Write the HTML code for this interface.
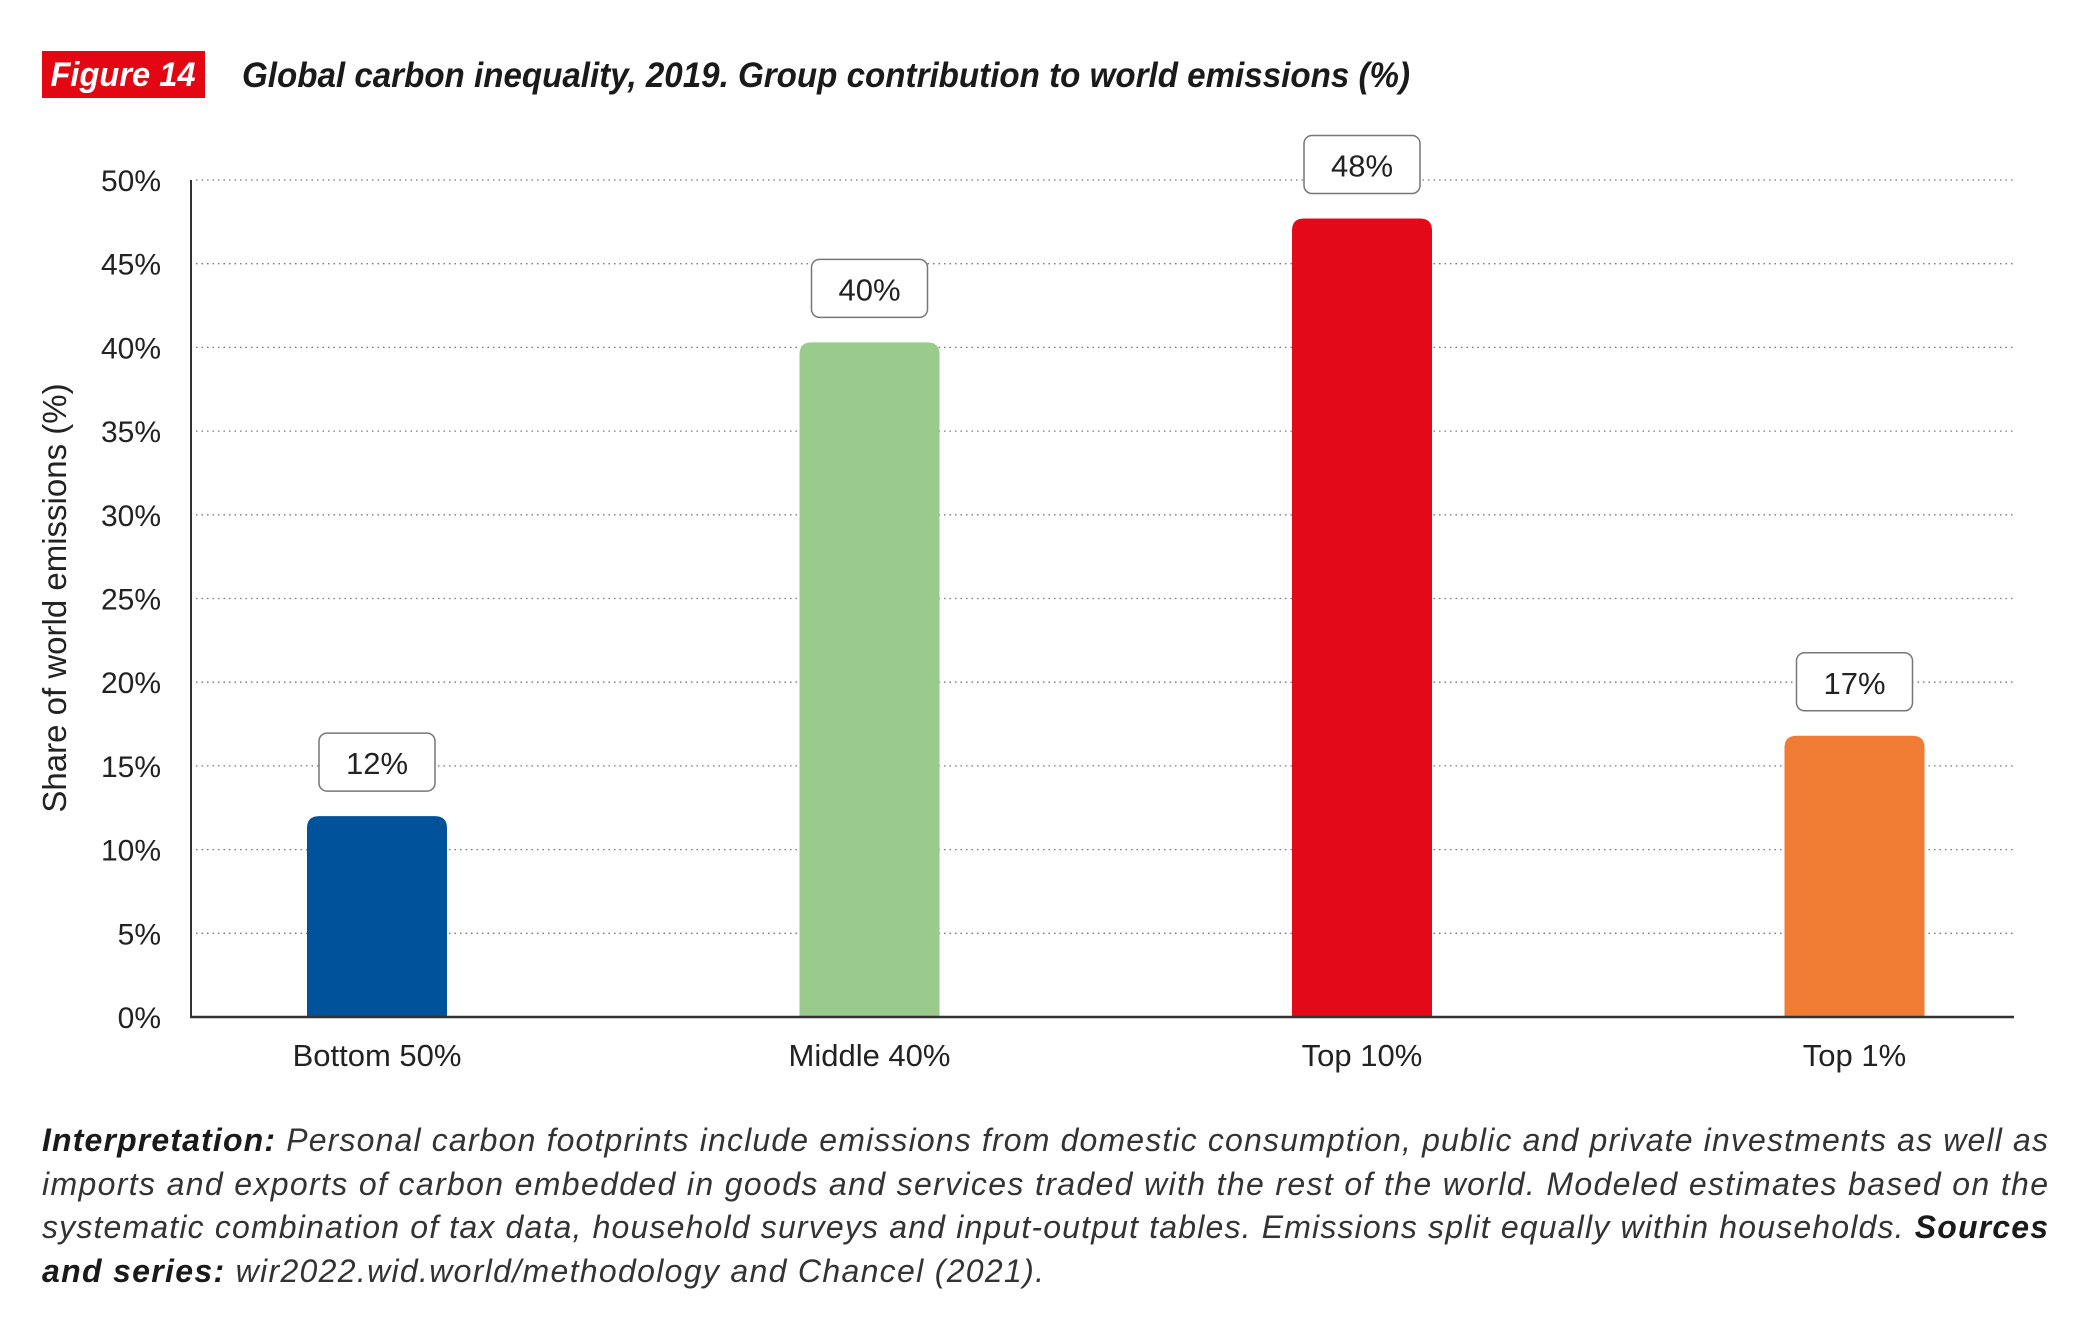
<!DOCTYPE html>
<html><head><meta charset="utf-8"><style>
html,body{margin:0;padding:0;background:#fff;}
svg{display:block;}
text{font-family:"Liberation Sans",sans-serif;}
</style></head><body>
<svg id="chart" width="2095" height="1329" viewBox="0 0 2095 1329" xmlns="http://www.w3.org/2000/svg">
<rect x="42" y="51" width="163" height="47" fill="#e30613"/>
<text x="123" y="86" text-anchor="middle" font-size="34" font-weight="bold" font-style="italic" fill="#fff" textLength="145" lengthAdjust="spacingAndGlyphs">Figure 14</text>
<text x="242" y="87" font-size="35" font-weight="bold" font-style="italic" fill="#1a1a1a" textLength="1168" lengthAdjust="spacingAndGlyphs">Global carbon inequality, 2019. Group contribution to world emissions (%)</text>
<g id="grid"></g>
<g id="bars"></g>
<g id="labels"></g>
<line x1="191" y1="180" x2="191" y2="1018" stroke="#333" stroke-width="2"/>
<line x1="190" y1="1017" x2="2014" y2="1017" stroke="#333" stroke-width="2.5"/>
<text transform="translate(66,598) rotate(-90)" text-anchor="middle" font-size="33" fill="#222">Share of world emissions (%)</text>
<g font-size="32" font-style="italic" fill="#333">
<text x="42" y="1151" textLength="2006" lengthAdjust="spacing"><tspan font-weight="bold" fill="#1a1a1a">Interpretation:</tspan> Personal carbon footprints include emissions from domestic consumption, public and private investments as well as</text>
<text x="42" y="1195" textLength="2006" lengthAdjust="spacing">imports and exports of carbon embedded in goods and services traded with the rest of the world. Modeled estimates based on the</text>
<text x="42" y="1238" textLength="2006" lengthAdjust="spacing">systematic combination of tax data, household surveys and input-output tables. Emissions split equally within households. <tspan font-weight="bold" fill="#1a1a1a">Sources</tspan></text>
<text x="42" y="1282" textLength="1002" lengthAdjust="spacing"><tspan font-weight="bold" fill="#1a1a1a">and series:</tspan> wir2022.wid.world/methodology and Chancel (2021).</text>
</g>
</svg>
<script>
const categories = ["Bottom 50%", "Middle 40%", "Top 10%", "Top 1%"];
const values = [12, 40.3, 47.7, 16.8];
const valueLabels = ["12%", "40%", "48%", "17%"];
const colors = ["#00539b", "#9aca8c", "#e30918", "#f07b33"];
const yTicks = [0, 5, 10, 15, 20, 25, 30, 35, 40, 45, 50];
const yTickLabels = ["0%", "5%", "10%", "15%", "20%", "25%", "30%", "35%", "40%", "45%", "50%"];

const NS = "http://www.w3.org/2000/svg";
const y0 = 1017, y50 = 180, yMax = 50;
function yScale(v){ return y0 - (y0 - y50) * v / yMax; }
function xScale(i){ return 377 + 492.5 * i; }
const barW = 140;
function mk(tag, attrs, parent){
  const e = document.createElementNS(NS, tag);
  for (const k in attrs) e.setAttribute(k, attrs[k]);
  parent.appendChild(e);
  return e;
}
const grid = document.getElementById("grid");
const bars = document.getElementById("bars");
const labels = document.getElementById("labels");
yTicks.forEach((t, i) => {
  const y = yScale(t);
  if (t > 0) {
    const l = mk("line", {x1: 196, x2: 2014, y1: y, y2: y, stroke: "#777", "stroke-width": 1.3, "stroke-dasharray": "1.5 4"}, grid);
    
    
  }
  const tx = mk("text", {x: 161, y: y + 11, "text-anchor": "end", "font-size": 30, fill: "#222"}, grid);
  tx.textContent = yTickLabels[i];
  
  
});
categories.forEach((c, i) => {
  const cx = xScale(i), top = yScale(values[i]);
  const r = 12;
  const x = cx - barW / 2;
  const p = mk("path", {d: `M${x},${y0} L${x},${top + r} Q${x},${top} ${x + r},${top} L${x + barW - r},${top} Q${x + barW},${top} ${x + barW},${top + r} L${x + barW},${y0} Z`, fill: colors[i]}, bars);
  
  
  const bx = mk("rect", {x: cx - 58, y: top - 25 - 58, width: 116, height: 58, rx: 8, fill: "#fff", stroke: "#777", "stroke-width": 1.5}, labels);
  
  
  const vt = mk("text", {x: cx, y: top - 25 - 17, "text-anchor": "middle", "font-size": 31, fill: "#222"}, labels);
  vt.textContent = valueLabels[i];
  
  
  const ct = mk("text", {x: cx, y: 1066, "text-anchor": "middle", "font-size": 31, fill: "#222"}, labels);
  ct.textContent = c;
  
  
});
</script>
</body></html>
